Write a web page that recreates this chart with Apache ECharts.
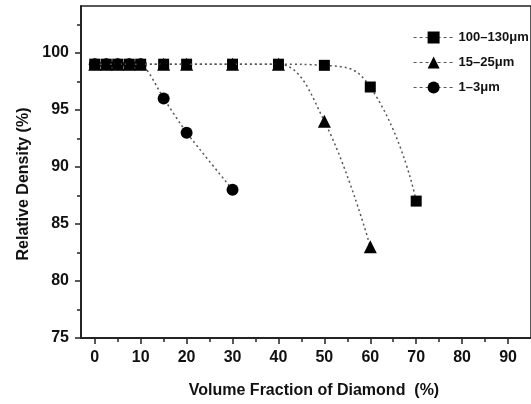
<!DOCTYPE html>
<html>
<head>
<meta charset="utf-8">
<script src="https://cdn.jsdelivr.net/npm/echarts@6/dist/echarts.min.js"></script>
<style>
html, body { margin: 0; padding: 0; background: #fff; }
#main { width: 531px; height: 404px; }
</style>
</head>
<body>
<div id="main"></div>
<script>
// 数据
var seriesNames = ['100–130μm', '15–25μm', '1–3μm'];
var coarseX = [0, 2.5, 5, 7.5, 10, 15, 20, 30, 40, 50, 60, 70];
var coarseY = [99, 99, 99, 99, 99, 99, 99, 99, 99, 98.9, 97, 87];
var mediumX = [0, 2.5, 5, 7.5, 10, 15, 20, 30, 40, 50, 60];
var mediumY = [99, 99, 99, 99, 99, 99, 99, 99, 99, 94, 83];
var fineX = [0, 2.5, 5, 7.5, 10, 15, 20, 30];
var fineY = [99, 99, 99, 99, 99, 96, 93, 88];
var xTickLabels = [0, 10, 20, 30, 40, 50, 60, 70, 80, 90];
var xMinorTicks = [5, 15, 25, 35, 45, 55, 65, 75, 85];
var yTickLabels = [75, 80, 85, 90, 95, 100];
var yMinorTicks = [77.5, 82.5, 87.5, 92.5, 97.5, 102.5];

var pairs = function (xs, ys) {
    var res = [];
    for (var i = 0; i < xs.length; i++) {
        res.push([xs[i], ys[i]]);
    }
    return res;
};

var myChart = echarts.init(document.getElementById('main'));
var font = 'Liberation Sans, Arial, sans-serif';
var lineStyle = { color: '#555', width: 1.5, type: [2, 3] };
var tickLine = { color: '#222', width: 1.5 };

var option = {
    backgroundColor: '#fff',
    animation: false,
    grid: {
        left: 81, top: 6, right: -5, bottom: 65,
        show: true, borderColor: '#222', borderWidth: 1.5
    },
    legend: {
        orient: 'vertical',
        left: 408,
        top: 26,
        itemWidth: 40,
        itemHeight: 15,
        itemGap: 12,
        data: seriesNames,
        textStyle: { fontFamily: font, fontWeight: 'bold', fontSize: 13, color: '#111' },
        lineStyle: { type: [3, 3], color: '#555', width: 1.2 }
    },
    xAxis: [{
        type: 'value',
        min: -3,
        max: 95,
        name: 'Volume Fraction of Diamond  (%)',
        nameLocation: 'middle',
        nameGap: 45,
        nameTextStyle: { fontFamily: font, fontWeight: 'bold', fontSize: 16, color: '#111', padding: [0, 0, 0, 16] },
        axisLine: { show: true, onZero: false, lineStyle: tickLine },
        axisTick: { show: true, length: 6, customValues: xTickLabels, lineStyle: tickLine },
        axisLabel: { customValues: xTickLabels, fontFamily: font, fontWeight: 'bold', fontSize: 16, color: '#111', margin: 12 },
        splitLine: { show: false }
    }, {
        type: 'value',
        min: -3,
        max: 95,
        position: 'bottom',
        axisLine: { show: true, onZero: false, lineStyle: tickLine },
        axisTick: { show: true, length: 4, customValues: xMinorTicks, lineStyle: tickLine },
        axisLabel: { show: false },
        splitLine: { show: false }
    }],
    yAxis: [{
        type: 'value',
        min: 75,
        max: 104.1,
        name: 'Relative Density (%)',
        nameLocation: 'middle',
        nameGap: 49,
        nameTextStyle: { fontFamily: font, fontWeight: 'bold', fontSize: 16, color: '#111', padding: [0, 24, 0, 0] },
        axisLine: { show: true, onZero: false, lineStyle: tickLine },
        axisTick: { show: true, length: 6, customValues: yTickLabels, lineStyle: tickLine },
        axisLabel: { customValues: yTickLabels, fontFamily: font, fontWeight: 'bold', fontSize: 16, color: '#111', margin: 12 },
        splitLine: { show: false }
    }, {
        type: 'value',
        min: 75,
        max: 104.1,
        position: 'left',
        axisLine: { show: true, onZero: false, lineStyle: tickLine },
        axisTick: { show: true, length: 4, customValues: yMinorTicks, lineStyle: tickLine },
        axisLabel: { show: false },
        splitLine: { show: false }
    }],
    series: [{
        name: seriesNames[0],
        type: 'line',
        data: pairs(coarseX, coarseY),
        smooth: 0.5,
        symbol: 'rect',
        symbolSize: 11,
        lineStyle: lineStyle,
        itemStyle: { color: '#000' },
        z: 2
    }, {
        name: seriesNames[2],
        type: 'line',
        data: pairs(fineX, fineY),
        smooth: 0.2,
        symbol: 'circle',
        symbolSize: 12,
        lineStyle: lineStyle,
        itemStyle: { color: '#000' },
        z: 3
    }, {
        name: seriesNames[1],
        type: 'line',
        data: pairs(mediumX, mediumY),
        smooth: 0.4,
        symbol: 'triangle',
        symbolSize: 13,
        lineStyle: lineStyle,
        itemStyle: { color: '#000' },
        z: 4
    }]
};
myChart.setOption(option);
</script>
</body>
</html>
